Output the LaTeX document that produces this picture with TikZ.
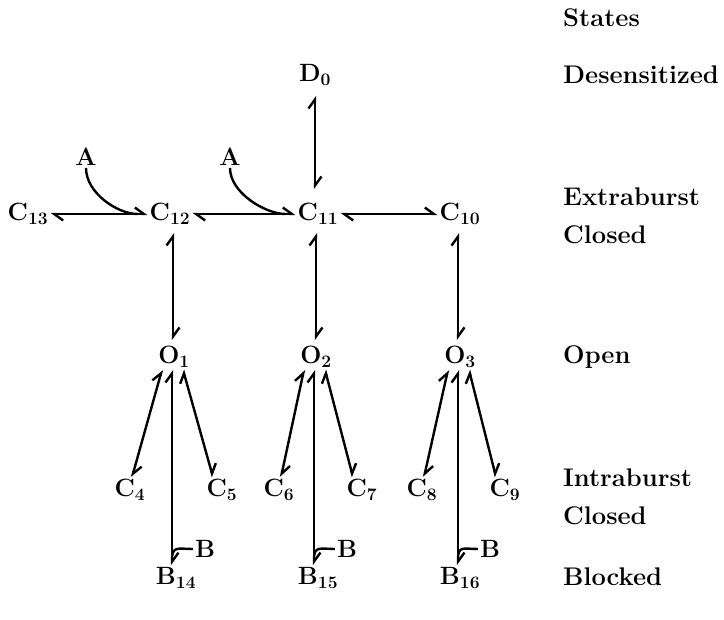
\documentclass[tikz,border=0pt]{standalone}
\usetikzlibrary{arrows.meta}
\newcommand{\stt}[2]{#1\textsubscript{#2}}

\begin{document}
\begin{tikzpicture}[x=1pt,y=-1pt,
    every node/.style={font=\fontsize{25}{29}\selectfont\bfseries, inner sep=2pt},
    hp/.style={{Straight Barb[harpoon,length=9pt,width=13pt]}-{Straight Barb[harpoon,length=9pt,width=13pt]}, line width=2.4pt},
    lig/.style={line width=2.4pt},
    lbl/.style={anchor=west, align=left, font=\fontsize{25.5}{38}\selectfont\bfseries}]
    \useasboundingbox (0,0) rectangle (724,620);

    % states
    \node (D0) at (315,75) {\stt{D}{0}};
    \node (C13) at (28,214) {\stt{C}{13}};
    \node (C12) at (170,214) {\stt{C}{12}};
    \node (C11) at (318,214) {\stt{C}{11}};
    \node (C10) at (460,214) {\stt{C}{10}};
    \node (O1) at (174,357) {\stt{O}{1}};
    \node (O2) at (316,357) {\stt{O}{2}};
    \node (O3) at (460,357) {\stt{O}{3}};
    \node (C4) at (130,490) {\stt{C}{4}};
    \node (C5) at (222,490) {\stt{C}{5}};
    \node (C6) at (279,490) {\stt{C}{6}};
    \node (C7) at (362,490) {\stt{C}{7}};
    \node (C8) at (422,490) {\stt{C}{8}};
    \node (C9) at (505,490) {\stt{C}{9}};
    \node (B14) at (176,578) {\stt{B}{14}};
    \node (B15) at (318,578) {\stt{B}{15}};
    \node (B16) at (460,578) {\stt{B}{16}};

    % ligands
    \node (A1) at (86,157) {A};
    \node (A2) at (230,157) {A};
    \node (B1) at (205,549) {B};
    \node (B2) at (347,549) {B};
    \node (B3) at (490,549) {B};

    % row labels
    \node[lbl] (lst) at (561,18) {States};
    \node[lbl] (lde) at (561,75) {Desensitized};
    \node[lbl] (lex) at (561,216) {Extraburst\\Closed};
    \node[lbl] (lop) at (561,357) {Open};
    \node[lbl] (lin) at (561,497) {Intraburst\\Closed};
    \node[lbl] (lbk) at (561,577) {Blocked};

    % transitions
    \draw[hp] (C13) -- (C12);
    \draw[hp] (C12) -- (C11);
    \draw[hp] (C11) -- (C10);
    \draw[hp, shorten <=8pt, shorten >=12pt] (D0.south) -- (D0.south |- C11.north);
    \draw[hp, shorten <=6pt, shorten >=4pt] ([xshift=3pt]C12.south) -- ([xshift=3pt]C12.south |- O1.north);
    \draw[hp, shorten <=6pt, shorten >=4pt] ([xshift=-2pt]C11.south) -- ([xshift=-2pt]C11.south |- O2.north);
    \draw[hp, shorten <=6pt, shorten >=4pt] ([xshift=-2pt]C10.south) -- ([xshift=-2pt]C10.south |- O3.north);
    \foreach \o/\l/\r/\b in {O1/C4/C5/B14, O2/C6/C7/B15, O3/C8/C9/B16} {
        \draw[hp] ([xshift=-12pt]\o.south) -- ([xshift=2pt]\l.north);
        \draw[hp] ([xshift=9pt]\o.south) -- ([xshift=-9pt]\r.north);
        \draw[hp] ([xshift=-2pt]\o.south) -- ([xshift=-2pt]\o.south |- \b.north);
    }

    % binding
    \draw[lig] (A1.south) .. controls +(0,25) and +(-20,0) .. ([xshift=-10pt]C12.west);
    \draw[lig] (A2.south) .. controls +(0,25) and +(-20,0) .. ([xshift=-10pt]C11.west);
    \draw[lig] (B1.west) .. controls +(-14,0) and +(0,-14) .. ([xshift=-2pt,yshift=6pt]O1.south |- B14.north);
    \draw[lig] (B2.west) .. controls +(-14,0) and +(0,-14) .. ([xshift=-2pt,yshift=6pt]O2.south |- B15.north);
    \draw[lig] (B3.west) .. controls +(-14,0) and +(0,-14) .. ([xshift=-2pt,yshift=6pt]O3.south |- B16.north);
\end{tikzpicture}
\end{document}
